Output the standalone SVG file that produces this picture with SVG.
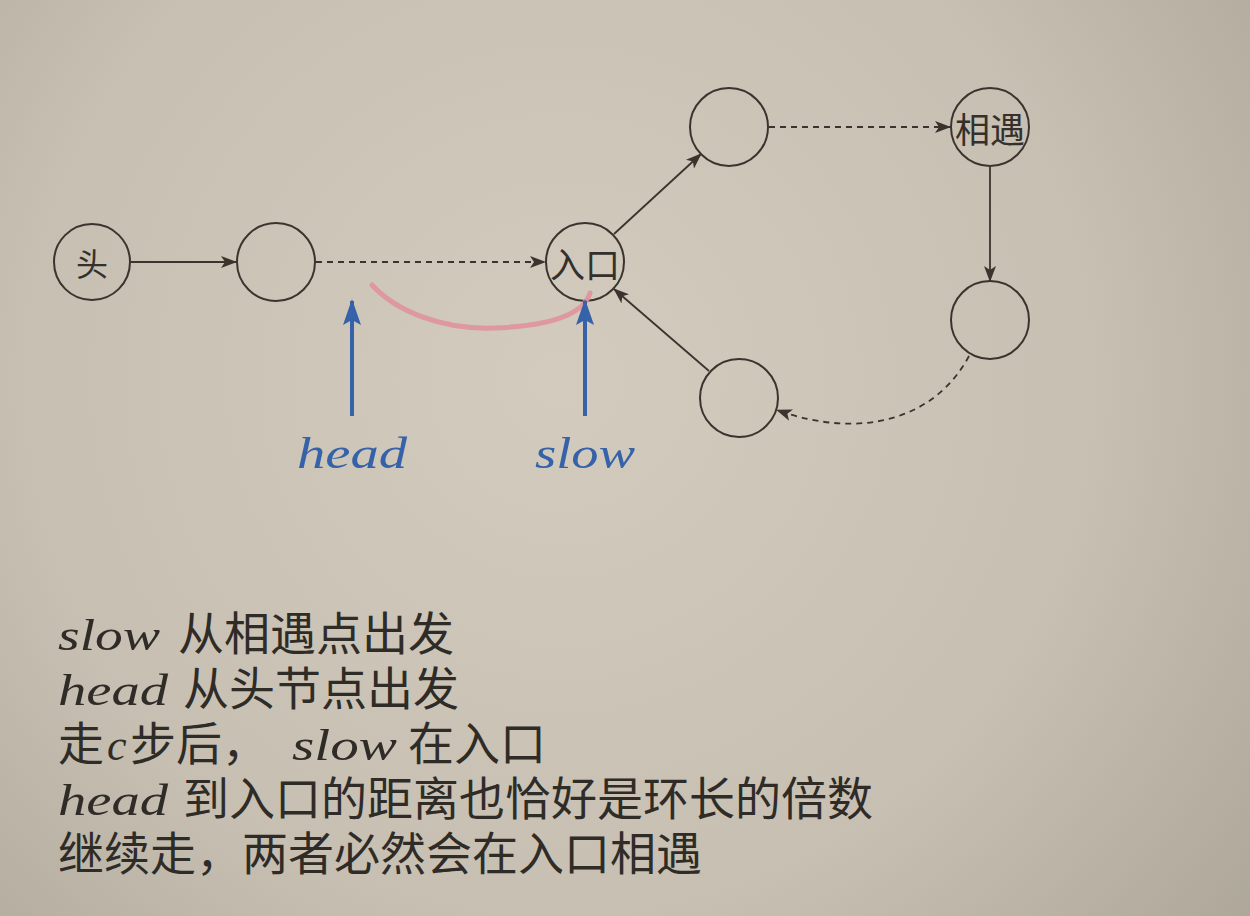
<svg xmlns="http://www.w3.org/2000/svg" width="1250" height="916" viewBox="0 0 1250 916">
<defs>
<radialGradient id="bg" cx="560" cy="380" r="900" gradientUnits="userSpaceOnUse">
<stop offset="0" stop-color="#d2cbbe"/>
<stop offset="0.6" stop-color="#c6bfb2"/>
<stop offset="1" stop-color="#aca699"/>
</radialGradient>
<marker id="ah" viewBox="0 0 16 12" refX="15" refY="6" markerWidth="16" markerHeight="12" markerUnits="userSpaceOnUse" orient="auto">
<path d="M0,0 L16,6 L0,12 L4,6 z" fill="#3a342e"/>
</marker>
<marker id="bh" viewBox="0 0 26 18" refX="24" refY="9" markerWidth="26" markerHeight="18" markerUnits="userSpaceOnUse" orient="auto">
<path d="M26,9 L0,0 L5,9 L0,18 z" fill="#3562a8"/>
</marker>
<style>
.node{fill:none;stroke:#3a342e;stroke-width:2}
.edge{fill:none;stroke:#3a342e;stroke-width:1.8}
.dash{stroke-dasharray:6 5}
.lbl{font-family:"Noto Sans CJK SC","Noto Sans",sans-serif;fill:#35302b;text-anchor:middle;dominant-baseline:central}
.math{font-family:"Liberation Serif","DejaVu Serif",serif;font-style:italic}
.cn{font-family:"Noto Sans CJK SC","Noto Sans",sans-serif;font-size:46px}
.body{font-size:44px;fill:#2f2b27}
.blue{fill:#3562a8}
</style>
</defs>
<rect width="1250" height="916" fill="url(#bg)"/>

<g id="connectors">
<line class="edge" x1="131" y1="262" x2="236" y2="262" marker-end="url(#ah)"/>
<line class="edge dash" x1="316" y1="262" x2="545" y2="262" marker-end="url(#ah)"/>
<line class="edge" x1="614" y1="234" x2="701" y2="154" marker-end="url(#ah)"/>
<line class="edge dash" x1="769" y1="127" x2="950" y2="127" marker-end="url(#ah)"/>
<line class="edge" x1="990" y1="167" x2="990" y2="281" marker-end="url(#ah)"/>
<path class="edge dash" d="M969,356 C935,420 860,440 777,410" marker-end="url(#ah)"/>
<line class="edge" x1="709" y1="371" x2="614" y2="289" marker-end="url(#ah)"/>
</g>

<g id="node-head">
<circle class="node" cx="92" cy="262" r="38"/>
<text class="lbl" x="92" y="262" font-size="32">头</text>
</g>
<g id="node-2">
<circle class="node" cx="276" cy="262" r="39"/>
</g>
<g id="node-entry">
<circle class="node" cx="585" cy="262" r="39"/>
<text class="lbl" x="585" y="262" font-size="35">入口</text>
</g>
<g id="node-top">
<circle class="node" cx="729" cy="127" r="39"/>
</g>
<g id="node-meet">
<circle class="node" cx="990" cy="127" r="39"/>
<text class="lbl" x="990" y="127" font-size="35">相遇</text>
</g>
<g id="node-right">
<circle class="node" cx="990" cy="320" r="39"/>
</g>
<g id="node-bottom">
<circle class="node" cx="739" cy="398" r="39"/>
</g>

<g id="pointers">
<path d="M372,285 C395,310 440,330 495,328 C545,326 583,316 590,293" fill="none" stroke="#e0929c" stroke-width="5" stroke-linecap="round" opacity="0.9"/>
<line x1="352" y1="416" x2="352" y2="301" stroke="#3562a8" stroke-width="4" marker-end="url(#bh)"/>
<line x1="585" y1="416" x2="585" y2="301" stroke="#3562a8" stroke-width="4" marker-end="url(#bh)"/>
<text class="math blue" x="352" y="468" font-size="44" text-anchor="middle" textLength="110" lengthAdjust="spacingAndGlyphs">head</text>
<text class="math blue" x="585" y="468" font-size="44" text-anchor="middle" textLength="100" lengthAdjust="spacingAndGlyphs">slow</text>
</g>

<g id="explanation" class="body">
<text class="math" x="58" y="650" textLength="102" lengthAdjust="spacingAndGlyphs">slow</text>
<text class="cn" x="178" y="650">从相遇点出发</text>
<text class="math" x="58" y="705" textLength="110" lengthAdjust="spacingAndGlyphs">head</text>
<text class="cn" x="183" y="705">从头节点出发</text>
<text class="cn" x="58" y="760">走</text>
<text class="math" x="107" y="760">c</text>
<text class="cn" x="130" y="760">步后，</text>
<text class="math" x="292" y="760" textLength="105" lengthAdjust="spacingAndGlyphs">slow</text>
<text class="cn" x="408" y="760">在入口</text>
<text class="math" x="58" y="815" textLength="110" lengthAdjust="spacingAndGlyphs">head</text>
<text class="cn" x="183" y="815">到入口的距离也恰好是环长的倍数</text>
<text class="cn" x="58" y="870">继续走，两者必然会在入口相遇</text>
</g>
</svg>
